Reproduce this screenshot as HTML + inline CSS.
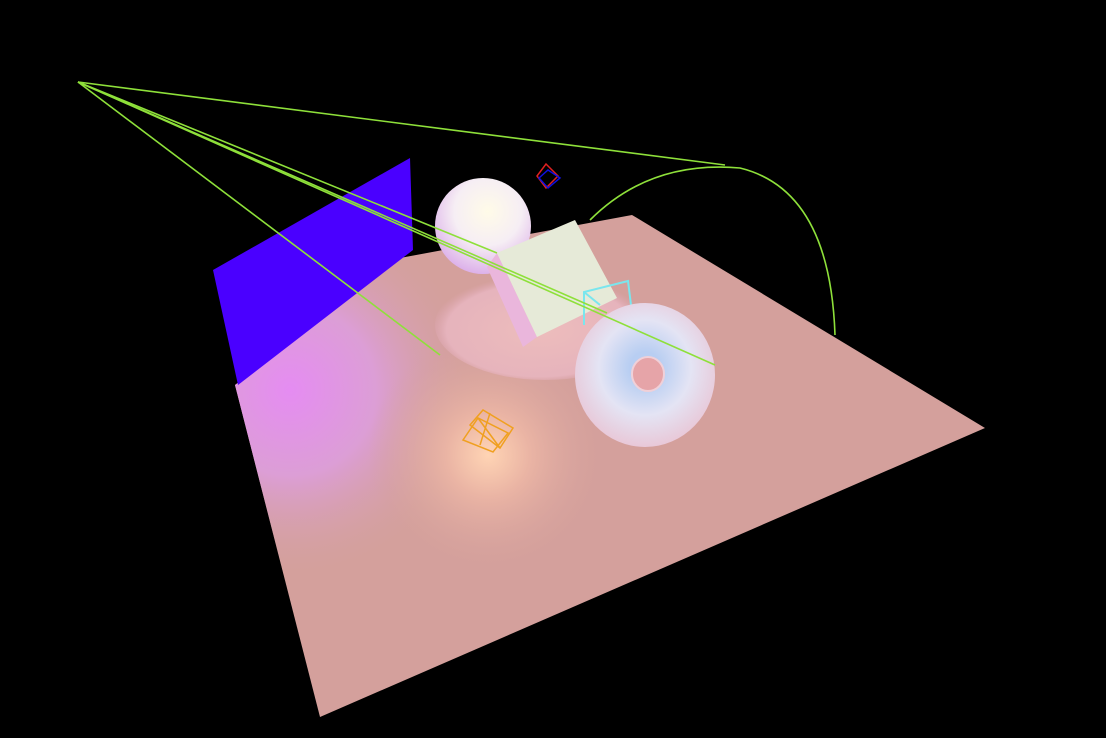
<!DOCTYPE html>
<html><head><meta charset="utf-8"><style>
html,body{margin:0;padding:0;background:#000;width:1106px;height:738px;overflow:hidden}
svg{display:block}
</style></head><body>
<svg width="1106" height="738" viewBox="0 0 1106 738">
<defs>
<radialGradient id="pinkGlow" cx="488" cy="455" r="120" gradientUnits="userSpaceOnUse">
<stop offset="0" stop-color="#ffd4b4"/><stop offset="0.35" stop-color="#eab4a4"/><stop offset="1" stop-color="#d4a09c" stop-opacity="0"/></radialGradient>
<radialGradient id="magGlow" cx="290" cy="390" r="190" gradientUnits="userSpaceOnUse">
<stop offset="0" stop-color="#e58cf2"/><stop offset="0.45" stop-color="#dc9ed6"/><stop offset="1" stop-color="#d4a09c" stop-opacity="0"/></radialGradient>
<radialGradient id="spot" cx="540" cy="330" r="110" gradientUnits="userSpaceOnUse" gradientTransform="translate(540 330) scale(1 0.5) translate(-540 -330)">
<stop offset="0" stop-color="#f4c4c4"/><stop offset="0.85" stop-color="#eab8c4"/><stop offset="1" stop-color="#e0a8b8" stop-opacity="0"/></radialGradient>
<radialGradient id="sphereG" cx="0.55" cy="0.35" r="0.7">
<stop offset="0" stop-color="#fffbe8"/><stop offset="0.5" stop-color="#f6eef4"/><stop offset="1" stop-color="#d9a8e8"/></radialGradient>
<radialGradient id="torusG" cx="0.5" cy="0.45" r="0.55">
<stop offset="0.2" stop-color="#b8cef2"/><stop offset="0.6" stop-color="#e4e4f4"/><stop offset="1" stop-color="#e8c8d8"/></radialGradient>
</defs>
<polygon points="235,385 400,258 632,215 985,428 320,717" fill="#d4a09c"/>
<polygon points="235,385 400,258 632,215 985,428 320,717" fill="url(#magGlow)"/>
<polygon points="235,385 400,258 632,215 985,428 320,717" fill="url(#pinkGlow)"/>
<ellipse cx="545" cy="325" rx="110" ry="55" fill="url(#spot)" opacity="0.8"/>
<polygon points="213,270 410,158 413,250 238,385" fill="#4a00ff"/>
<circle cx="483" cy="226" r="48" fill="url(#sphereG)"/>
<polygon points="487,267 497,253 537,337 523,347" fill="#eab6dc"/>
<polygon points="497,253 575,220 617,298 537,337" fill="#e6ead8"/>
<g stroke="#7ae6ee" stroke-width="2" fill="none">
<polyline points="584,325 584,292 628,281 631,305"/><line x1="584" y1="292" x2="600" y2="305"/>
</g>
<g>
<ellipse cx="645" cy="375" rx="70" ry="72" fill="url(#torusG)"/>
<ellipse cx="648" cy="374" rx="16" ry="17" fill="#e6a4a8" stroke="#f0d0d8" stroke-width="2"/>
</g>
<g stroke="#f0a020" stroke-width="1.5" fill="none">
<polygon points="470,425 483,410 513,428 500,448"/><polygon points="463,440 478,418 508,433 493,452"/>
<line x1="478" y1="418" x2="500" y2="448"/><line x1="490" y1="413" x2="480" y2="445"/>
</g>
<g fill="none" stroke-width="1.5">
<polygon points="546,164 558,176 546,188 537,176" stroke="#e02020"/>
<polygon points="548,170 560,178 548,188 539,178" stroke="#1010e0"/>
</g>
<g stroke="#8ee03a" stroke-width="1.6" fill="none">
<line x1="78" y1="82" x2="725" y2="165"/>
<line x1="78" y1="82" x2="440" y2="355"/>
<line x1="78" y1="82" x2="497" y2="253"/>
<line x1="78" y1="82" x2="607" y2="313"/>
<line x1="78" y1="82" x2="715" y2="365"/>
<path d="M590,220 Q650,160 740,168 Q830,190 835,335"/>
</g>
</svg>
</body></html>
